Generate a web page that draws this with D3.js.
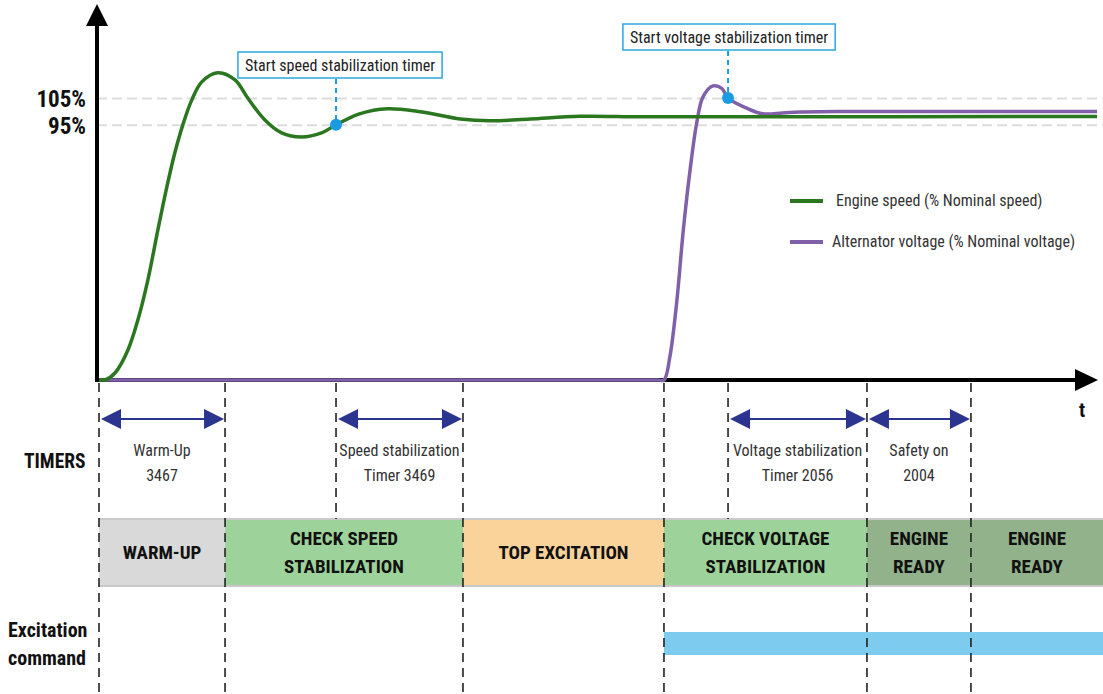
<!DOCTYPE html>
<html>
<head>
<meta charset="utf-8">
<script src="https://cdn.jsdelivr.net/npm/d3@7"></script>
<style>
  body { margin: 0; background: #fff; }
  svg { display: block; }
  text { font-family: "Roboto Condensed", "Liberation Sans", sans-serif; }
</style>
</head>
<body>
<script>
/*global d3*/

// time runs 0..100 (arbitrary units) along the t axis

// engine speed, % of nominal
const speedT = [0, 0.6, 1.6, 2.9, 3.9, 4.9, 5.9, 6.8, 7.6, 8.4, 9.3, 10.3, 11.9, 13.6, 14.9, 16.6, 18.3, 20.3, 22.3, 23.75, 26.1, 28.9, 32.2, 36.2, 39.2, 43.2, 48.2, 54.2, 60.2, 100];
const speedV = [0, 0, 2.6, 11.2, 22.4, 37.3, 55.9, 71.9, 84.6, 95, 104.3, 111, 114.4, 111.8, 105, 96.9, 92, 90.5, 92, 95, 99.1, 101, 99.9, 97.2, 96.5, 97.2, 98.2, 98, 98, 98.1];

// alternator voltage, % of nominal
const voltT = [0, 56.0, 56.61, 57.2, 57.88, 58.55, 59.22, 59.89, 60.52, 61.52, 62.4, 63.03, 64.9, 66.5, 68.5, 70.2, 75.0, 85.0, 100];
const voltV = [0, 0, 0, 8.6, 28.7, 55.9, 78, 95.7, 105.4, 109.5, 108.6, 105, 101.2, 99.1, 99.4, 99.8, 100, 100, 100];

// reference levels
const levels = [95, 105];

// event times (boundaries of timers and phases)
const events = [0, 12.63, 23.75, 36.47, 56.61, 63.03, 76.95, 87.37];
const shortEvents = [23.75, 63.03];

// timers
const timerStart = [0, 23.75, 63.03, 76.95];
const timerEnd = [12.63, 36.47, 76.95, 87.37];
const timerLine1 = ['Warm-Up', 'Speed stabilization', 'Voltage stabilization', 'Safety on'];
const timerLine2 = ['3467', 'Timer 3469', 'Timer 2056', '2004'];

// phases
const phaseStart = [0, 12.63, 36.47, 56.61, 76.95, 87.37];
const phaseLabels = [['WARM-UP'], ['CHECK SPEED', 'STABILIZATION'], ['TOP EXCITATION'], ['CHECK VOLTAGE', 'STABILIZATION'], ['ENGINE', 'READY'], ['ENGINE', 'READY']];
const phaseKind = ['warm', 'check', 'excite', 'check', 'ready', 'ready'];

// excitation command on from
const excitationOn = 56.61;

// stabilization timer starts
const markerT = [23.75, 63.03];
const markerV = [95, 105];
const markerText = ['Start speed stabilization timer', 'Start voltage stabilization timer'];

const seriesNames = ['Engine speed (% Nominal speed)', 'Alternator voltage (% Nominal voltage)'];

const width = 1103;
const height = 694;

const xScale = d3.scaleLinear().domain([0, 100]).range([99, 1097]);
const yScale = d3.scaleLinear().domain([0, 105]).range([380, 98]);
const xEnd = xScale.invert(width);

const phaseColor = d3.scaleOrdinal()
  .domain(['warm', 'check', 'excite', 'ready'])
  .range(['#d9d9d9', '#9dd39a', '#fad39b', '#92b28b']);

const seriesColor = ['#2a771f', '#8060a8'];

const svg = d3.select('body').append('svg')
  .attr('width', width)
  .attr('height', height);

// grid lines at 95% / 105% via an axis
const grid = svg.append('g')
  .attr('transform', `translate(${xScale(0) - 2},0)`)
  .call(d3.axisLeft(yScale).tickValues(levels).tickSize(-(width - xScale(0) + 2)).tickFormat(''));
grid.select('.domain').remove();
grid.selectAll('line')
  .attr('stroke', '#dcdcdc')
  .attr('stroke-width', 2)
  .attr('stroke-dasharray', '10,5');

// y labels
const yAxis = svg.append('g')
  .attr('transform', `translate(${xScale(0) - 10},0)`)
  .call(d3.axisLeft(yScale).tickValues(levels).tickSize(0).tickFormat(d => d + '%'));
yAxis.select('.domain').remove();
yAxis.selectAll('text')
  .attr('font-family', null)
  .attr('font-size', 23)
  .attr('font-weight', 'bold')
  .attr('fill', '#111')
  .attr('dy', '0.36em');

// phase boxes
const boxTop = 519, boxBot = 586;
const phases = phaseStart.map(function(s, i){
  return {start: s, end: i < phaseStart.length - 1 ? phaseStart[i + 1] : xEnd, label: phaseLabels[i], kind: phaseKind[i]};
});
svg.append('g').selectAll('rect')
  .data(phases)
  .join('rect')
  .attr('x', d => xScale(d.start))
  .attr('y', boxTop)
  .attr('width', d => xScale(d.end) - xScale(d.start))
  .attr('height', boxBot - boxTop)
  .attr('fill', d => phaseColor(d.kind));
[boxTop, boxBot].forEach(function(yy){
  svg.append('line')
    .attr('x1', xScale(0)).attr('x2', width)
    .attr('y1', yy).attr('y2', yy)
    .attr('stroke', '#c9c9c9').attr('stroke-width', 2);
});
const phaseText = svg.append('g').selectAll('text')
  .data(phases)
  .join('text')
  .attr('x', d => (xScale(d.start) + xScale(d.end)) / 2)
  .attr('y', d => d.label.length === 1 ? 559 : 545)
  .attr('text-anchor', 'middle')
  .attr('font-size', 19)
  .attr('font-weight', 'bold')
  .attr('fill', '#111');
phaseText.selectAll('tspan')
  .data(d => d.label.map(l => ({l: l, x: (xScale(d.start) + xScale(d.end)) / 2})))
  .join('tspan')
  .attr('x', d => d.x)
  .attr('dy', (d, i) => i === 0 ? 0 : 28)
  .text(d => d.l);

// excitation command bar
svg.append('rect')
  .attr('x', xScale(excitationOn))
  .attr('y', 632)
  .attr('width', width - xScale(excitationOn))
  .attr('height', 23)
  .attr('fill', '#7dcbef');

// dashed event lines
svg.append('g').selectAll('line')
  .data(events)
  .join('line')
  .attr('x1', d => xScale(d)).attr('x2', d => xScale(d))
  .attr('y1', 383)
  .attr('y2', d => shortEvents.includes(d) ? boxTop : height)
  .attr('stroke', '#222')
  .attr('stroke-width', 1.6)
  .attr('stroke-dasharray', '9,6');

// timer arrows
const arrowY = 419;
const navy = '#2b3590';
const timers = timerStart.map((s, i) => ({start: s, end: timerEnd[i], l1: timerLine1[i], l2: timerLine2[i]}));
const tg = svg.append('g').selectAll('g').data(timers).join('g');
tg.append('line')
  .attr('x1', d => xScale(d.start) + 10)
  .attr('x2', d => xScale(d.end) - 10)
  .attr('y1', arrowY).attr('y2', arrowY)
  .attr('stroke', navy).attr('stroke-width', 2);
tg.append('path')
  .attr('d', function(d){
    const a = xScale(d.start) + 2, b = xScale(d.end) - 1;
    return `M${a},${arrowY}L${a + 20},${arrowY - 10}L${a + 20},${arrowY + 10}Z` +
           `M${b},${arrowY}L${b - 20},${arrowY - 10}L${b - 20},${arrowY + 10}Z`;
  })
  .attr('fill', navy);
tg.append('text')
  .attr('x', d => (xScale(d.start) + xScale(d.end)) / 2)
  .attr('y', 456)
  .attr('text-anchor', 'middle')
  .attr('font-size', 16)
  .attr('fill', '#333')
  .text(d => d.l1);
tg.append('text')
  .attr('x', d => (xScale(d.start) + xScale(d.end)) / 2)
  .attr('y', 481)
  .attr('text-anchor', 'middle')
  .attr('font-size', 16)
  .attr('fill', '#333')
  .text(d => d.l2);

// row labels
svg.append('text').attr('x', 24).attr('y', 468)
  .attr('font-size', 19.5).attr('font-weight', 'bold').attr('fill', '#111')
  .text('TIMERS');
svg.append('text').attr('x', 8).attr('y', 637)
  .attr('font-size', 20).attr('font-weight', 'bold').attr('fill', '#111')
  .text('Excitation');
svg.append('text').attr('x', 8).attr('y', 665)
  .attr('font-size', 20).attr('font-weight', 'bold').attr('fill', '#111')
  .text('command');

// curves
const line = d3.line()
  .x(d => xScale(d.t))
  .y(d => yScale(d.v))
  .curve(d3.curveCatmullRom.alpha(0.5));

const voltData = voltT.map((t, i) => ({t: t, v: voltV[i]}));
const speedData = speedT.map((t, i) => ({t: t, v: speedV[i]}));

// axes
const axisG = svg.append('g');
axisG.append('line')
  .attr('x1', xScale(0) - 2).attr('x2', xScale(0) - 2)
  .attr('y1', yScale(0) + 2).attr('y2', 22)
  .attr('stroke', '#000').attr('stroke-width', 4);
axisG.append('path')
  .attr('d', `M${xScale(0) - 2},4L${xScale(0) - 13},26L${xScale(0) + 9},26Z`)
  .attr('fill', '#000');
axisG.append('line')
  .attr('x1', xScale(0) - 4).attr('x2', 1080)
  .attr('y1', yScale(0)).attr('y2', yScale(0))
  .attr('stroke', '#000').attr('stroke-width', 4);
axisG.append('path')
  .attr('d', `M1098,${yScale(0)}L1075,${yScale(0) - 11}L1075,${yScale(0) + 11}Z`)
  .attr('fill', '#000');
svg.append('text').attr('x', 1079).attr('y', 417)
  .attr('font-size', 20).attr('font-weight', 'bold').attr('fill', '#111')
  .text('t');

svg.append('path')
  .datum(voltData)
  .attr('d', line)
  .attr('fill', 'none')
  .attr('stroke', seriesColor[1])
  .attr('stroke-width', 3.5);

svg.append('path')
  .datum(speedData)
  .attr('d', line)
  .attr('fill', 'none')
  .attr('stroke', seriesColor[0])
  .attr('stroke-width', 3.5);

// annotations
const blue = '#1b9ce2';
markerT.forEach(function(t, i){
  const cx = xScale(t), cy = yScale(markerV[i]);
  const boxY = i === 0 ? 52 : 24;
  const tx = cx + (i === 0 ? 4 : 1);
  const g = svg.append('g');
  const rect = g.append('rect');
  const txt = g.append('text')
    .attr('x', tx)
    .attr('y', boxY + 19)
    .attr('text-anchor', 'middle')
    .attr('font-size', 16)
    .attr('fill', '#222')
    .text(markerText[i]);
  const w = txt.node().getComputedTextLength() + 14;
  rect
    .attr('x', tx - w / 2)
    .attr('y', boxY)
    .attr('width', w)
    .attr('height', 26)
    .attr('fill', '#fff')
    .attr('stroke', '#29a8e0')
    .attr('stroke-width', 1.5);
  g.append('line')
    .attr('x1', cx).attr('x2', cx)
    .attr('y1', boxY + 27).attr('y2', cy)
    .attr('stroke', blue).attr('stroke-width', 2)
    .attr('stroke-dasharray', '5,4');
  g.append('circle')
    .attr('cx', cx).attr('cy', cy).attr('r', 6)
    .attr('fill', blue);
});

// legend
const legend = svg.append('g').selectAll('g')
  .data(seriesNames)
  .join('g')
  .attr('transform', (d, i) => `translate(790,${201 + i * 41})`);
legend.append('line')
  .attr('x1', 0).attr('x2', 33)
  .attr('stroke', (d, i) => seriesColor[i])
  .attr('stroke-width', 4);
legend.append('text')
  .attr('x', (d, i) => i === 0 ? 46 : 42)
  .attr('y', 5)
  .attr('font-size', 16)
  .attr('fill', '#333')
  .text(d => d);
</script>
</body>
</html>
